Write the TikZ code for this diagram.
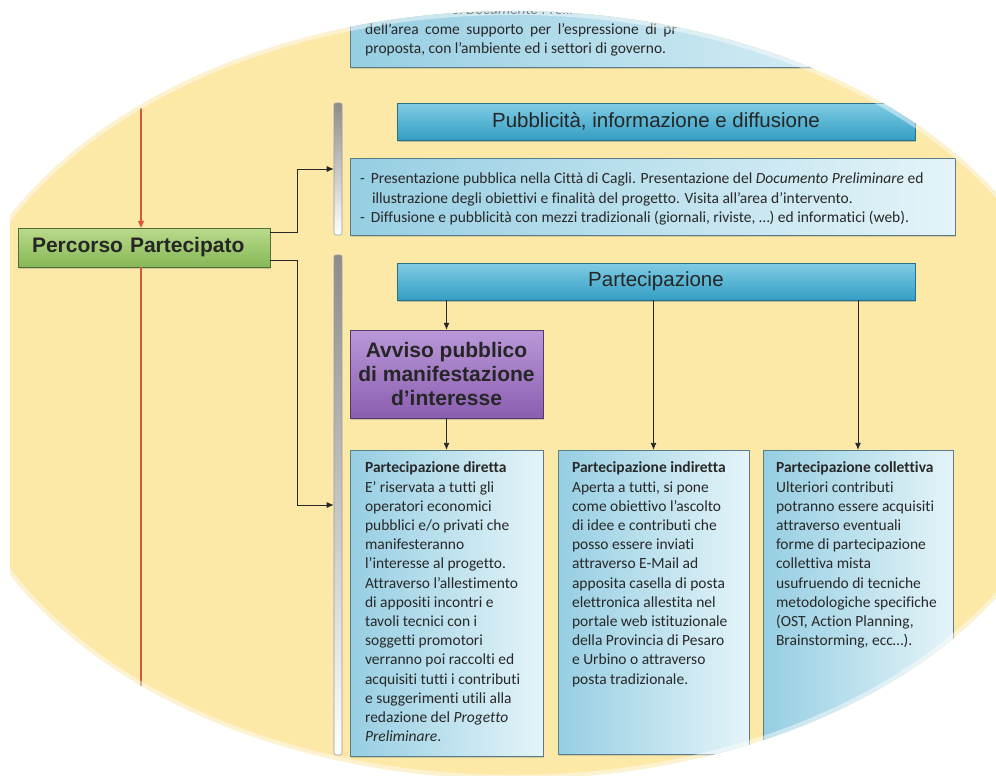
\documentclass[tikz,border=0pt]{standalone}
\usepackage{fontspec}
\setmainfont{Carlito}[Ligatures=NoCommon]
\newfontfamily\arialfont{Liberation Sans}
\usetikzlibrary{arrows.meta,calc,fit,shadows}

\definecolor{paper}{RGB}{252,233,168}
\definecolor{bannerTop}{RGB}{128,204,228}
\definecolor{bannerBot}{RGB}{52,158,196}
\definecolor{panelL}{RGB}{150,206,226}
\definecolor{panelR}{RGB}{228,244,249}
\definecolor{greenTop}{RGB}{186,218,140}
\definecolor{greenBot}{RGB}{134,184,86}
\definecolor{purpTop}{RGB}{186,152,216}
\definecolor{purpBot}{RGB}{138,94,176}
\definecolor{redln}{RGB}{214,88,60}
\definecolor{ink}{RGB}{40,40,40}

\begin{document}
\begin{tikzpicture}[x=1pt, y=-1pt, every node/.style={inner sep=0pt},
  banner/.style={minimum width=518pt, minimum height=37pt, top color=bannerTop, bottom color=bannerBot,
    draw=bannerBot!70!black, line width=0.3pt, text=black!85,
    font=\arialfont\fontsize{20.5}{24}\selectfont,
    drop shadow={shadow xshift=1pt, shadow yshift=-2pt, opacity=0.45}},
  panel/.style={rectangle, left color=panelL, right color=panelR, draw=panelL!60!black, line width=0.3pt,
    drop shadow={shadow xshift=1pt, shadow yshift=-2pt, opacity=0.3}},
  body/.style={anchor=north west, align=left, text=ink, font=\fontsize{15.5}{19.2}\selectfont},
  bar/.style={minimum width=8pt, rounded corners=2pt, top color=gray!90, bottom color=white, draw=gray!80, line width=0.6pt},
  conn/.style={-{Latex[length=7pt,width=6pt]}, line width=0.8pt, black!85}]

\fill[white] (0,0) rectangle (996,776);
\useasboundingbox (0,0) rectangle (996,776);

\begin{scope}
  \clip (10,0) rectangle (996,776);
  \clip (513,395) ellipse [x radius=569pt, y radius=384pt];
  \fill[paper] (0,0) rectangle (996,776);

  % left column
  \coordinate (rtop) at (141,108);
  \coordinate (rbot) at (141,687);
  \node[minimum width=252pt, minimum height=39pt, inner xsep=14pt, text width=224pt, align=left,
    top color=greenTop, bottom color=greenBot, draw=greenBot!60!black, line width=0.4pt,
    font=\arialfont\bfseries\fontsize{21}{24}\selectfont, text=black!85,
    drop shadow={shadow xshift=1pt, shadow yshift=-2pt, opacity=0.35}]
    (perc) at (144,247.5) {Percorso Partecipato};
  \draw[redln, line width=1.2pt, -{Triangle[length=7pt,width=6pt]}] (rtop) -- (rtop |- perc.north);
  \draw[redln, line width=1.2pt] (rtop |- perc.south) -- (rbot);

  \node[bar, minimum height=132pt] (bar1) at (338,169) {};
  \node[bar, minimum height=500pt] (bar2) at (338,505) {};
  \draw[conn] ($(perc.north east)+(0,5)$) -- ++(27,0) |- (bar1.west);
  \draw[conn] ($(perc.south east)+(0,-7)$) -- ++(27,0) |- (bar2.west);

  % top part
  \node[panel, fit={(350,-40) (955,67)}] (topbox) {};
  \node[body] (toptxt) at (365,4) {\hspace*{78pt}del \textit{Documento Preliminare}\\
    {\spaceskip=6.5pt dell’area come supporto per l’espressione di pr}\\
    proposta, con l’ambiente ed i settori di governo.};

  \node[banner] (pubbl) at (656,121.5) {Pubblicità, informazione e diffusione};
  \node[panel, fit={(350,158) (955,235)}] (pubbox) {};
  \node[body] (pubtxt) at ([xshift=10pt, yshift=-15pt]pubbox.north west)
    {-\hspace{6pt}Presentazione pubblica nella Città di Cagli. Presentazione del \textit{Documento Preliminare} ed\\
     \hspace*{12pt}illustrazione degli obiettivi e finalità del progetto. Visita all’area d’intervento.\\
     -\hspace{6pt}Diffusione e pubblicità con mezzi tradizionali (giornali, riviste, …) ed informatici (web).};

  % participation
  \node[banner] (part) at (656,281.5) {Partecipazione};
  \node[minimum width=193pt, minimum height=88pt, align=center,
    top color=purpTop, bottom color=purpBot, draw=purpBot!60!black, line width=0.4pt,
    font=\arialfont\bfseries\fontsize{21}{24}\selectfont, text=black!85,
    drop shadow={shadow xshift=1pt, shadow yshift=-2pt, opacity=0.35}]
    (avviso) at (446.5,374) {Avviso pubblico\\di manifestazione\\d’interesse};

  \node[panel, fit={(350,450) (543,756)}] (diretta) {};
  \node[panel, fit={(558,450) (749,754)}] (indiretta) {};
  \node[panel, fit={(763,450) (953,760)}] (collettiva) {};

  \node[body] (direttaTxt) at ([xshift=15pt, yshift=-12pt]diretta.north west)
    {\textbf{Partecipazione diretta}\\E’ riservata a tutti gli\\operatori economici\\pubblici e/o privati che\\
     manifesteranno\\l’interesse al progetto.\\Attraverso l’allestimento\\di appositi incontri e\\
     tavoli tecnici con i\\soggetti promotori\\verranno poi raccolti ed\\acquisiti tutti i contributi\\
     e suggerimenti utili alla\\redazione del \textit{Progetto}\\\textit{Preliminare}.};
  \node[body] (indirettaTxt) at ([xshift=14pt, yshift=-12pt]indiretta.north west)
    {\textbf{Partecipazione indiretta}\\Aperta a tutti, si pone\\come obiettivo l’ascolto\\di idee e contributi che\\
     posso essere inviati\\attraverso E-Mail ad\\apposita casella di posta\\elettronica allestita nel\\
     portale web istituzionale\\della Provincia di Pesaro\\e Urbino o attraverso\\posta tradizionale.};
  \node[body] (collettivaTxt) at ([xshift=13pt, yshift=-12pt]collettiva.north west)
    {\textbf{Partecipazione collettiva}\\Ulteriori contributi\\potranno essere acquisiti\\attraverso eventuali\\
     forme di partecipazione\\collettiva mista\\usufruendo di tecniche\\metodologiche specifiche\\
     (OST, Action Planning,\\Brainstorming, ecc…).};

  \draw[conn] (part.south -| avviso) -- (avviso.north);
  \draw[conn] (avviso.south) -- (avviso.south |- diretta.north);
  \draw[conn] (part.south -| indiretta) -- (indiretta.north);
  \draw[conn] (part.south -| collettiva) -- (collettiva.north);

  % soft edge of the oval
  \draw[white, opacity=0.45, line width=8pt] (513,395) ellipse [x radius=569pt, y radius=384pt];
\end{scope}
\end{tikzpicture}
\end{document}
